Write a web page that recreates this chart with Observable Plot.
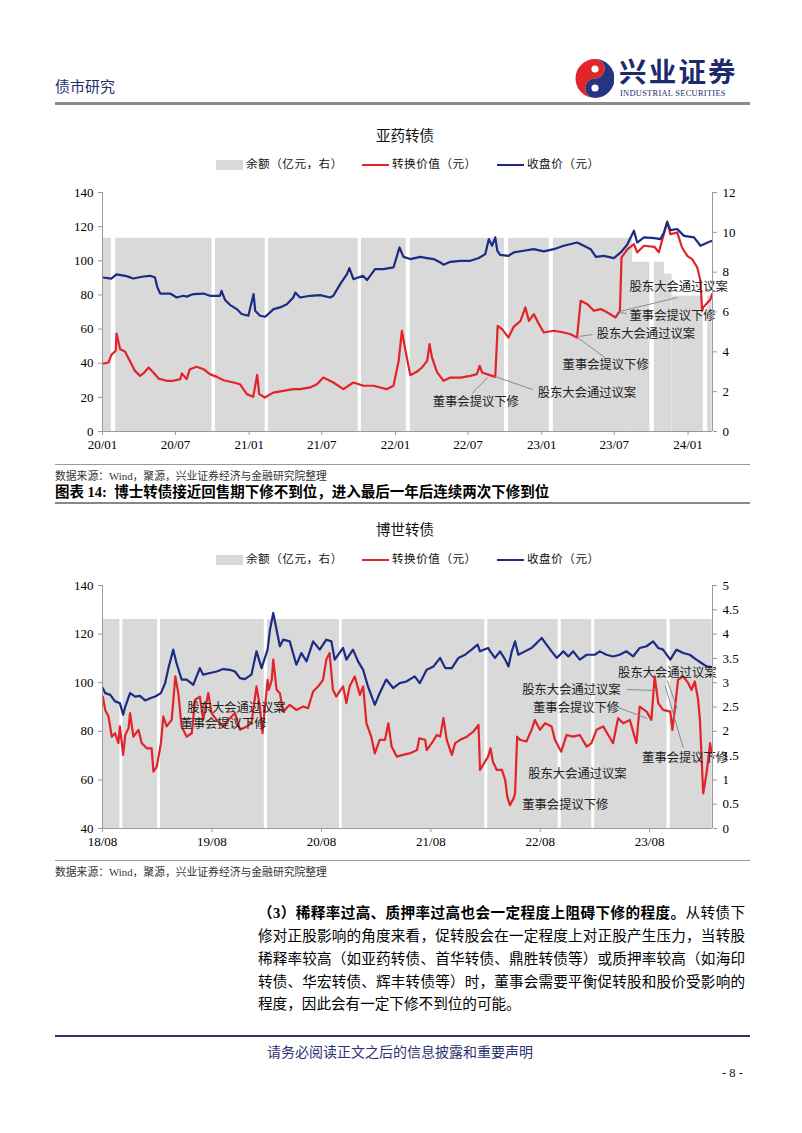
<!DOCTYPE html>
<html><head><meta charset="utf-8">
<script src="https://cdn.jsdelivr.net/npm/d3@7"></script>
<script src="https://cdn.jsdelivr.net/npm/@observablehq/plot@0.6"></script>
<style>
body{margin:0;background:#fff;}
#page{position:relative;width:802px;height:1133px;overflow:hidden;font-family:"Liberation Serif","Noto Sans CJK SC",serif;color:#000;}
.a{position:absolute;white-space:nowrap;}
.rule{position:absolute;left:55px;width:695px;}
.sw{position:absolute;}
.para{position:absolute;left:258px;width:487px;font-size:14.6px;line-height:20px;height:20px;text-align:justify;text-align-last:justify;white-space:nowrap;}
.chart{position:absolute;left:0;}
</style></head><body><div id="page"></div>
<script>
// ---------- 亚药转债 data ----------
const yaXDomain = ["2020-01-01", "2024-03-02"];
const yaXTicks = ["2020-01-01","2020-07-01","2021-01-01","2021-07-01","2022-01-01","2022-07-01","2023-01-01","2023-07-01","2024-01-01"];
const yaLeftTicks = [0,20,40,60,80,100,120,140];
const yaRightTicks = [0,2,4,6,8,10,12];
const yaBalance = [
 ["2020-01-02","2020-01-23",9.7],["2020-02-03","2020-09-30",9.7],["2020-10-09","2021-02-10",9.7],
 ["2021-02-18","2021-09-30",9.7],["2021-10-08","2022-01-28",9.7],["2022-02-07","2022-09-30",9.7],
 ["2022-10-10","2023-01-20",9.7],["2023-01-30","2023-08-15",9.7],["2023-08-15","2023-09-28",8.5],
 ["2023-10-09","2023-11-03",8.5],["2023-11-03","2023-11-22",7.9],["2023-11-22","2024-02-08",6.8],
 ["2024-02-19","2024-03-01",6.8]
];
const yaConv = [
 ["2020-01-02",39.8],["2020-01-16",40.4],["2020-01-23",44.9],["2020-02-03",47.3],["2020-02-05",57.4],["2020-02-14",48.2],["2020-02-26",46.9],["2020-03-10",41],["2020-03-22",35.5],["2020-04-04",32.6],["2020-04-12",34],["2020-04-25",37.5],["2020-05-07",34.6],["2020-05-20",31],["2020-06-09",29.7],["2020-06-26",29.7],["2020-07-13",30.7],["2020-07-17",34],["2020-07-29",30.7],["2020-08-06",36.5],["2020-08-23",37.9],["2020-09-09",36.5],["2020-09-17",35.1],["2020-09-25",33.6],["2020-10-12",32],["2020-10-29",30],["2020-11-23",28.7],["2020-12-09",27.7],["2020-12-26",21.9],["2021-01-11",20.3],["2021-01-21",33.2],["2021-01-26",21.9],["2021-02-09",19.9],["2021-03-02",22.8],["2021-03-27",23.8],["2021-04-21",24.8],["2021-05-08",24.8],["2021-06-02",25.8],["2021-06-19",27.7],["2021-07-05",31.6],["2021-07-30",28.7],["2021-08-24",24.8],["2021-09-18",28.7],["2021-10-13",26.8],["2021-11-07",26.8],["2021-12-10",24.8],["2021-12-27",26.8],["2022-01-09",41.4],["2022-01-17",59],["2022-01-26",47.3],["2022-02-07",33],["2022-02-24",35.1],["2022-03-08",37.5],["2022-03-21",41.4],["2022-03-27",51.2],["2022-04-02",43.4],["2022-04-15",34.6],["2022-05-01",29.7],["2022-05-18",31.6],["2022-06-12",31.6],["2022-07-07",32.6],["2022-07-23",33.6],["2022-07-30",38.5],["2022-08-05",34.6],["2022-08-17",33.6],["2022-09-07",32],["2022-09-13",61.9],["2022-09-24",60],["2022-10-10",55],["2022-10-23",61.3],["2022-11-09",64.8],["2022-11-21",72.7],["2022-11-30",64.8],["2022-12-12",68.8],["2022-12-25",62.9],["2023-01-06",58],["2023-01-31",59],["2023-02-25",58],["2023-03-14",57],["2023-03-30",55],["2023-04-08",76.6],["2023-04-25",74.6],["2023-05-11",70.7],["2023-05-28",71.7],["2023-06-14",69.7],["2023-07-04",66.8],["2023-07-15",70.7],["2023-07-19",102],["2023-08-03",106.8],["2023-08-19",109.8],["2023-08-27",104.9],["2023-09-13",108.8],["2023-10-09",108.2],["2023-10-20",104.9],["2023-10-29",112.7],["2023-11-10",123],["2023-11-18",115.6],["2023-12-05",116.6],["2023-12-17",107.8],["2023-12-30",102.9],["2024-01-11",101],["2024-01-24",96.1],["2024-02-01",88.3],["2024-02-05",70.7],["2024-02-08",72.7],["2024-02-26",77.5],["2024-03-01",80.5]
];
const yaClose = [
 ["2020-01-02",90.2],["2020-01-23",89.6],["2020-02-05",92],["2020-03-01",91],["2020-03-18",89.6],["2020-04-12",90.8],["2020-04-29",91.2],["2020-05-11",90.2],["2020-05-17",84.4],["2020-05-24",80.8],["2020-06-18",80.8],["2020-07-04",78.5],["2020-07-21",79.5],["2020-07-29",79],["2020-08-15",80.5],["2020-09-09",80.8],["2020-09-25",79.5],["2020-10-20",79.5],["2020-10-24",82.4],["2020-11-02",77],["2020-11-14",74.2],["2020-12-01",71.7],["2020-12-13",68.8],["2020-12-30",67.8],["2021-01-12",80.5],["2021-01-16",70.7],["2021-01-28",67.8],["2021-02-10",67.2],["2021-03-03",71.7],["2021-03-19",72.7],["2021-04-05",74.6],["2021-04-21",78.5],["2021-04-26",81.4],["2021-05-08",78.5],["2021-06-02",79.5],["2021-06-27",79.9],["2021-07-22",78.5],["2021-07-30",79.5],["2021-08-16",86.3],["2021-09-02",92.2],["2021-09-08",95.7],["2021-09-18",89.2],["2021-10-12",91.2],["2021-10-22",88.7],["2021-11-11",95.1],["2021-12-02",95.1],["2021-12-27",96.1],["2022-01-11",107.8],["2022-01-21",102.3],["2022-02-07",101],["2022-03-04",102.3],["2022-03-21",101.6],["2022-04-06",101],["2022-04-23",99],["2022-05-01",97.7],["2022-05-18",99.4],["2022-06-12",100],["2022-07-07",100],["2022-07-28",101.6],["2022-08-13",103.9],["2022-08-22",112.7],["2022-08-30",108.8],["2022-09-07",113.7],["2022-09-12",105.9],["2022-09-19",103.5],["2022-10-10",102.9],["2022-10-23",104.9],["2022-11-17",105.9],["2022-12-12",106.8],["2023-01-06",105.5],["2023-01-31",106.8],["2023-02-25",108.8],["2023-03-30",110.7],["2023-04-16",108.8],["2023-05-03",106.8],["2023-05-16",102.3],["2023-06-05",102.9],["2023-06-30",101.6],["2023-07-17",104.9],["2023-08-02",109.4],["2023-08-19",117.6],["2023-08-27",110.7],["2023-09-13",113.7],["2023-10-09",113.3],["2023-10-24",112.7],["2023-11-02",116.6],["2023-11-10",122.5],["2023-11-18",118],["2023-12-05",118.6],["2023-12-22",114.6],["2024-01-16",113.7],["2024-02-01",108.8],["2024-02-19",110.7],["2024-03-01",111.7]
];
const yaNotes = [
 {text:"董事会提议下修", date:"2022-04-04", value:17.0},
 {text:"股东大会通过议案", date:"2022-12-22", value:22.8},
 {text:"董事会提议下修", date:"2023-02-22", value:38.7},
 {text:"股东大会通过议案", date:"2023-05-18", value:56.8},
 {text:"董事会提议下修", date:"2023-08-08", value:67.4},
 {text:"股东大会通过议案", date:"2023-08-08", value:84.4}
];
const yaLeaders = [
 ["2022-07-11",22.3,"2022-08-19",31.6],
 ["2022-12-09",24.6,"2022-09-06",32.2],
 ["2023-06-07",43.4,"2023-03-31",55.1],
 ["2023-05-08",56.8,"2023-04-05",55.7],
 ["2023-08-01",69.1,"2023-07-14",69.7],
 ["2023-07-14",70.3,"2023-12-06",78.5]
];

// ---------- 博世转债 data ----------
const bsXDomain = ["2018-08-01", "2024-02-27"];
const bsXTicks = ["2018-08-01","2019-08-01","2020-08-01","2021-08-01","2022-08-01","2023-08-01"];
const bsLeftTicks = [40,60,80,100,120,140];
const bsRightTicks = [0,0.5,1,1.5,2,2.5,3,3.5,4,4.5,5];
const bsBalance = [
 ["2018-08-02","2018-09-28",4.3],["2018-10-08","2019-02-01",4.3],["2019-02-11","2020-01-23",4.3],
 ["2020-02-03","2020-09-30",4.3],["2020-10-09","2022-01-28",4.3],["2022-02-07","2022-09-30",4.3],
 ["2022-10-10","2023-01-20",4.3],["2023-01-30","2023-09-28",4.3],["2023-10-09","2024-02-26",4.3]
];
const bsConv = [
 ["2018-08-02",94.3],["2018-08-10",88.8],["2018-08-21",86.1],["2018-09-01",77.8],["2018-09-12",79.2],["2018-09-23",75.1],["2018-09-28",82],["2018-10-09",70.3],["2018-10-16",78.5],["2018-10-27",81.3],["2018-11-01",87.5],["2018-11-12",77.8],["2018-11-29",80.6],["2018-12-10",75.1],["2018-12-27",73],["2019-01-12",73],["2019-01-18",63.4],["2019-01-29",65.4],["2019-02-12",75.1],["2019-02-20",86.1],["2019-03-03",82],["2019-03-20",84.7],["2019-04-01",102.6],["2019-04-11",95.7],["2019-04-22",82],["2019-05-09",77.8],["2019-05-26",79.2],["2019-06-06",93],["2019-06-22",94.3],["2019-07-03",84.7],["2019-07-20",95.7],["2019-07-31",87.5],["2019-08-17",84.7],["2019-09-08",82],["2019-09-30",85.4],["2019-10-17",87.5],["2019-11-03",80.6],["2019-11-25",82],["2019-12-11",83.3],["2019-12-28",98.5],["2020-01-08",90.2],["2020-01-17",79.2],["2020-02-03",101.2],["2020-02-07",97.1],["2020-02-17",101.2],["2020-02-22",109.5],["2020-03-04",97.1],["2020-03-15",95.7],["2020-03-26",88.1],["2020-04-17",90.9],["2020-05-09",88.8],["2020-06-01",90.2],["2020-06-17",89.5],["2020-07-04",96.4],["2020-07-21",98.5],["2020-08-06",101.2],["2020-08-17",109.5],["2020-08-28",112.2],["2020-09-08",97.1],["2020-09-19",94.3],["2020-10-12",98.5],["2020-10-23",91.6],["2020-11-03",98.5],["2020-11-20",102.6],["2020-12-07",95],["2020-12-18",98.5],["2020-12-29",83.3],["2021-01-14",77.8],["2021-01-26",70.9],["2021-02-11",76.5],["2021-03-01",76.5],["2021-03-12",83.3],["2021-03-23",73.7],["2021-04-09",69.6],["2021-04-30",70.3],["2021-05-22",70.9],["2021-06-16",72.3],["2021-06-23",77.1],["2021-07-13",76.5],["2021-07-18",72.3],["2021-08-04",75.1],["2021-08-21",78.5],["2021-09-01",77.8],["2021-09-12",85.4],["2021-09-23",76.5],["2021-10-10",70.3],["2021-10-21",75.1],["2021-11-07",76.5],["2021-11-29",77.8],["2021-12-21",79.9],["2022-01-07",82.6],["2022-01-12",64.1],["2022-02-08",69.6],["2022-02-16",73],["2022-02-24",67.5],["2022-03-09",64.1],["2022-03-26",64.1],["2022-04-06",60],["2022-04-13",53.1],["2022-04-22",49.6],["2022-05-04",52.4],["2022-05-09",54.4],["2022-05-16",77.8],["2022-05-25",76.5],["2022-06-16",75.8],["2022-07-03",80.6],["2022-07-14",84.7],["2022-07-31",80.6],["2022-08-17",83.3],["2022-09-08",82],["2022-09-19",76.5],["2022-10-10",71.6],["2022-10-28",78.5],["2022-11-19",77.8],["2022-12-11",78.5],["2023-01-03",73.7],["2023-01-19",75.1],["2023-02-05",80.6],["2023-02-27",82],["2023-03-16",78.5],["2023-04-01",75.1],["2023-04-18",85.4],["2023-05-05",83.3],["2023-05-27",84.7],["2023-06-18",75.1],["2023-06-29",90.2],["2023-07-22",88.1],["2023-08-07",84.7],["2023-08-18",102.6],["2023-08-30",91.6],["2023-09-15",88.8],["2023-10-09",88.1],["2023-10-16",80.6],["2023-10-24",88.8],["2023-11-04",101.2],["2023-11-21",102.6],["2023-12-08",99.8],["2023-12-19",97.1],["2023-12-30",100.5],["2024-01-10",93],["2024-01-16",84.7],["2024-01-27",54.4],["2024-02-07",62.7],["2024-02-19",75.1],["2024-02-24",70.9]
];
const bsClose = [
 ["2018-08-02",97.8],["2018-08-10",95.7],["2018-08-27",95],["2018-09-12",92.3],["2018-09-28",91.6],["2018-10-09",86.8],["2018-10-16",90.2],["2018-11-01",95.7],["2018-11-18",94.3],["2018-12-04",94.6],["2018-12-21",92.7],["2019-01-07",93.6],["2019-01-24",94.3],["2019-02-12",95.7],["2019-02-26",99.8],["2019-03-09",106],["2019-03-25",113.6],["2019-04-05",108.1],["2019-04-22",101.3],["2019-05-09",101.3],["2019-05-31",99.1],["2019-06-11",102.6],["2019-06-22",106],["2019-07-03",103.3],["2019-07-26",104],["2019-08-17",104.6],["2019-09-08",105.6],["2019-09-30",105.3],["2019-10-17",104.6],["2019-11-03",101.9],["2019-11-19",101.5],["2019-12-11",103.3],["2019-12-28",112.9],["2020-01-14",106],["2020-02-03",113.6],["2020-02-11",121.8],["2020-02-22",128.7],["2020-03-04",121.8],["2020-03-15",115],["2020-03-26",117.7],["2020-04-17",117],["2020-05-09",107.4],["2020-05-26",112.2],["2020-06-12",108.8],["2020-07-04",117],["2020-07-26",113.6],["2020-08-17",117.7],["2020-09-03",117],["2020-09-14",109.5],["2020-10-12",114.3],["2020-10-23",109.5],["2020-11-14",113.6],["2020-12-01",108.8],["2020-12-18",105.3],["2021-01-03",98.5],["2021-01-26",90.9],["2021-02-11",95.7],["2021-03-05",101.3],["2021-03-28",97.8],["2021-04-19",99.8],["2021-05-11",100.5],["2021-06-08",102.6],["2021-06-25",99.8],["2021-07-18",105.3],["2021-08-10",106.7],["2021-09-01",110.2],["2021-09-18",106],["2021-10-10",106],["2021-11-01",110.2],["2021-11-23",111.5],["2021-12-15",113.6],["2022-01-04",115.7],["2022-01-12",112.9],["2022-02-08",114.3],["2022-02-15",112.9],["2022-03-03",110.2],["2022-03-20",112.9],["2022-04-06",109.5],["2022-04-17",106.7],["2022-04-28",112.9],["2022-05-09",117],["2022-05-20",111.5],["2022-06-11",112.9],["2022-07-03",114.3],["2022-07-20",116.3],["2022-08-06",118.4],["2022-08-22",115.7],["2022-09-08",112.9],["2022-09-25",110.2],["2022-10-17",112.9],["2022-11-03",110.8],["2022-11-19",112.9],["2022-12-11",109.5],["2023-01-03",111.5],["2023-01-30",111.5],["2023-02-16",112.9],["2023-03-10",111.5],["2023-04-01",110.8],["2023-04-23",111.5],["2023-05-16",112.9],["2023-06-07",110.8],["2023-06-29",114.3],["2023-07-22",115],["2023-08-13",117],["2023-08-30",114.3],["2023-09-15",113.6],["2023-10-09",109.5],["2023-10-30",113.6],["2023-11-21",112.2],["2023-12-13",111.5],["2024-01-04",109.5],["2024-01-21",108.1],["2024-02-07",106.7],["2024-02-24",106.4]
];
const bsNotes = [
 {text:"股东大会通过议案", date:"2019-05-11", value:89.4},
 {text:"董事会提议下修", date:"2019-04-18", value:82.8},
 {text:"股东大会通过议案", date:"2022-06-02", value:96.8},
 {text:"董事会提议下修", date:"2022-07-08", value:89.4},
 {text:"股东大会通过议案", date:"2023-04-18", value:103.8},
 {text:"董事会提议下修", date:"2023-07-07", value:68.8},
 {text:"股东大会通过议案", date:"2022-06-22", value:62.2},
 {text:"董事会提议下修", date:"2022-06-02", value:49.5}
];
const bsLeaders = [
 ["2023-05-18",97.2,"2023-08-13",96.8],
 ["2023-04-18",89.8,"2023-07-24",85.3],
 ["2023-09-29",100.9,"2023-11-01",89.4],
 ["2023-09-22",98.8,"2023-11-21",73.3]
];

const legendItems = ["余额（亿元，右）","转换价值（元）","收盘价（元）"];
const paraLines = [
 ["（3）稀释率过高、质押率过高也会一定程度上阻碍下修的程度。","从转债下"],
 ["","修对正股影响的角度来看，促转股会在一定程度上对正股产生压力，当转股"],
 ["","稀释率较高（如亚药转债、首华转债、鼎胜转债等）或质押率较高（如海印"],
 ["","转债、华宏转债、辉丰转债等）时，董事会需要平衡促转股和股价受影响的"],
 ["","程度，因此会有一定下修不到位的可能。"]
];

// ---------- rendering ----------
const parse = d3.utcParse("%Y-%m-%d");
const RED = "#e3232a", BLUE = "#1c2b84", GRAY = "#d9d9d9", AX = "#9a9a9a";
const FONT = '"Liberation Serif","Noto Sans CJK SC",serif';
const page = document.getElementById("page");

function add(html, style) {
  const d = document.createElement("div");
  d.className = "a";
  d.innerHTML = html;
  Object.assign(d.style, style);
  page.appendChild(d);
  return d;
}
function rule(top, h, color) {
  const d = document.createElement("div");
  d.className = "rule";
  Object.assign(d.style, {top: top + "px", height: h + "px", background: color});
  page.appendChild(d);
}

function makeChart(cfg) {
  const off = cfg.yDomain[0], k = cfg.k;
  const fmtR = v => String(Math.round(v * 10) / 10);
  return Plot.plot({
    width: 802, height: cfg.height,
    marginLeft: 102, marginRight: 90, marginTop: 10, marginBottom: cfg.height - 10 - cfg.plotH,
    style: {fontFamily: FONT, fontSize: "13px", color: "#000", background: "transparent", overflow: "visible"},
    x: {type: "utc", domain: cfg.xDomain.map(parse)},
    y: {domain: cfg.yDomain},
    marks: [
      Plot.rectY(cfg.balance, {x1: d => parse(d[0]), x2: d => parse(d[1]), y1: () => off, y2: d => off + d[2] * k, fill: GRAY}),
      Plot.line(cfg.conv, {x: d => parse(d[0]), y: d => d[1], stroke: RED, strokeWidth: 2.2, strokeLinejoin: "round"}),
      Plot.line(cfg.close, {x: d => parse(d[0]), y: d => d[1], stroke: BLUE, strokeWidth: 2.2, strokeLinejoin: "round"}),
      Plot.link(cfg.leaders, {x1: d => parse(d[0]), y1: d => d[1], x2: d => parse(d[2]), y2: d => d[3], stroke: "#8a8a8a", strokeWidth: 1}),
      Plot.text(cfg.notes, {x: d => parse(d.date), y: "value", text: "text", textAnchor: "start", fontSize: 12.3, fill: "#222", fontFamily: FONT}),
      Plot.ruleX([parse(cfg.xDomain[0])], {stroke: AX}),
      Plot.ruleX([parse(cfg.xDomain[1])], {stroke: AX}),
      Plot.ruleY([off], {stroke: AX}),
      Plot.axisX({ticks: cfg.xTicks.map(parse), tickFormat: d3.utcFormat("%y/%m"), tickSize: 4, tickPadding: 4, stroke: AX, fill: "#000", label: null}),
      Plot.axisY({anchor: "left", ticks: cfg.leftTicks, tickSize: 4, tickPadding: 5, stroke: AX, fill: "#000", label: null, tickFormat: d => String(d)}),
      Plot.axisY({anchor: "right", ticks: cfg.rightTicks.map(v => off + v * k), tickFormat: d => fmtR((d - off) / k), tickSize: 4, tickPadding: 6, stroke: AX, fill: "#000", label: null})
    ]
  });
}

function legend(cy) {
  const swX = [216, 362, 497];
  const g = document.createElement("div"); g.className = "sw";
  Object.assign(g.style, {left: swX[0] + "px", top: (cy - 5) + "px", width: "27px", height: "10px", background: GRAY}); page.appendChild(g);
  const r = document.createElement("div"); r.className = "sw";
  Object.assign(r.style, {left: swX[1] + "px", top: (cy - 1) + "px", width: "27px", height: "2.4px", background: RED}); page.appendChild(r);
  const b = document.createElement("div"); b.className = "sw";
  Object.assign(b.style, {left: swX[2] + "px", top: (cy - 1) + "px", width: "27px", height: "2.4px", background: BLUE}); page.appendChild(b);
  legendItems.forEach((t, i) => add(t, {left: (swX[i] + 30) + "px", top: (cy - 8) + "px", fontSize: "11.6px", lineHeight: "16px", color: "#111", letterSpacing: "0.5px"}));
}

// header
add("债市研究", {left: "55px", top: "78px", fontSize: "15px", lineHeight: "18px", color: "#23306e"});
add('<svg width="40" height="42" viewBox="0 0 40 42"><path d="M21 2 A19.5 19.5 0 0 0 21 41 A9.7 9.7 0 0 1 21 21.5 A9.7 9.7 0 0 0 21 2Z" fill="#e0262b"/><path d="M21 41 A19.5 19.5 0 0 0 21 2 A9.7 9.7 0 0 1 21 21.5 A9.7 9.7 0 0 0 21 41Z" fill="#26357f"/><circle cx="21" cy="12" r="3.6" fill="#fff"/><circle cx="21" cy="31" r="3.6" fill="#fff"/></svg>', {left: "574px", top: "57px"});
add("兴业证券", {left: "619px", top: "55px", fontSize: "27.5px", lineHeight: "30px", fontWeight: "700", color: "#1d2b6c", letterSpacing: "2.2px", fontFamily: '"Noto Sans CJK SC",serif'});
add("INDUSTRIAL SECURITIES", {left: "620px", top: "89px", fontSize: "8.4px", lineHeight: "9px", color: "#1d2b6c", letterSpacing: "0.3px"});
rule(102, 2.5, "#8c8c8c");

// chart 1
add("亚药转债", {left: "376px", top: "127px", fontSize: "14.5px", lineHeight: "18px", color: "#111"});
legend(165);
const c1 = makeChart({xDomain: yaXDomain, xTicks: yaXTicks, yDomain: [0, 140], k: 140 / 12, leftTicks: yaLeftTicks, rightTicks: yaRightTicks,
  balance: yaBalance, conv: yaConv, close: yaClose, notes: yaNotes, leaders: yaLeaders, height: 279, plotH: 239});
c1.classList.add("chart"); c1.style.top = "182px"; page.appendChild(c1);
rule(464, 1, "#999");
add("数据来源：Wind，聚源，兴业证券经济与金融研究院整理", {left: "55px", top: "469px", fontSize: "10.8px", lineHeight: "14px", color: "#333"});
add("图表 14:&nbsp;&nbsp;博士转债接近回售期下修不到位，进入最后一年后连续两次下修到位", {left: "55px", top: "483px", fontSize: "14.5px", lineHeight: "18px", fontWeight: "700", color: "#000"});
rule(502, 1.5, "#888");

// chart 2
add("博世转债", {left: "376px", top: "521px", fontSize: "14.5px", lineHeight: "18px", color: "#111"});
legend(560);
const c2 = makeChart({xDomain: bsXDomain, xTicks: bsXTicks, yDomain: [40, 140], k: 20, leftTicks: bsLeftTicks, rightTicks: bsRightTicks,
  balance: bsBalance, conv: bsConv, close: bsClose, notes: bsNotes, leaders: bsLeaders, height: 281, plotH: 243});
c2.classList.add("chart"); c2.style.top = "575px"; page.appendChild(c2);
rule(860, 1, "#999");
add("数据来源：Wind，聚源，兴业证券经济与金融研究院整理", {left: "55px", top: "865px", fontSize: "10.8px", lineHeight: "14px", color: "#333"});

// paragraph
const centers = [913, 936, 959, 982, 1004];
paraLines.forEach((ln, i) => {
  const d = document.createElement("div");
  d.className = "para";
  d.style.top = (centers[i] - 10) + "px";
  if (i === paraLines.length - 1) d.style.textAlignLast = "left";
  d.innerHTML = (ln[0] ? '<b>' + ln[0] + '</b>' : '') + ln[1];
  page.appendChild(d);
});

// footer
rule(1035, 2, "#2d3270");
add("请务必阅读正文之后的信息披露和重要声明", {left: "400px", top: "1044px", transform: "translateX(-50%)", fontSize: "14px", lineHeight: "17px", color: "#2d3270"});
add("- 8 -", {left: "722px", top: "1066px", fontSize: "12.5px", lineHeight: "15px", color: "#111"});
</script></body></html>
